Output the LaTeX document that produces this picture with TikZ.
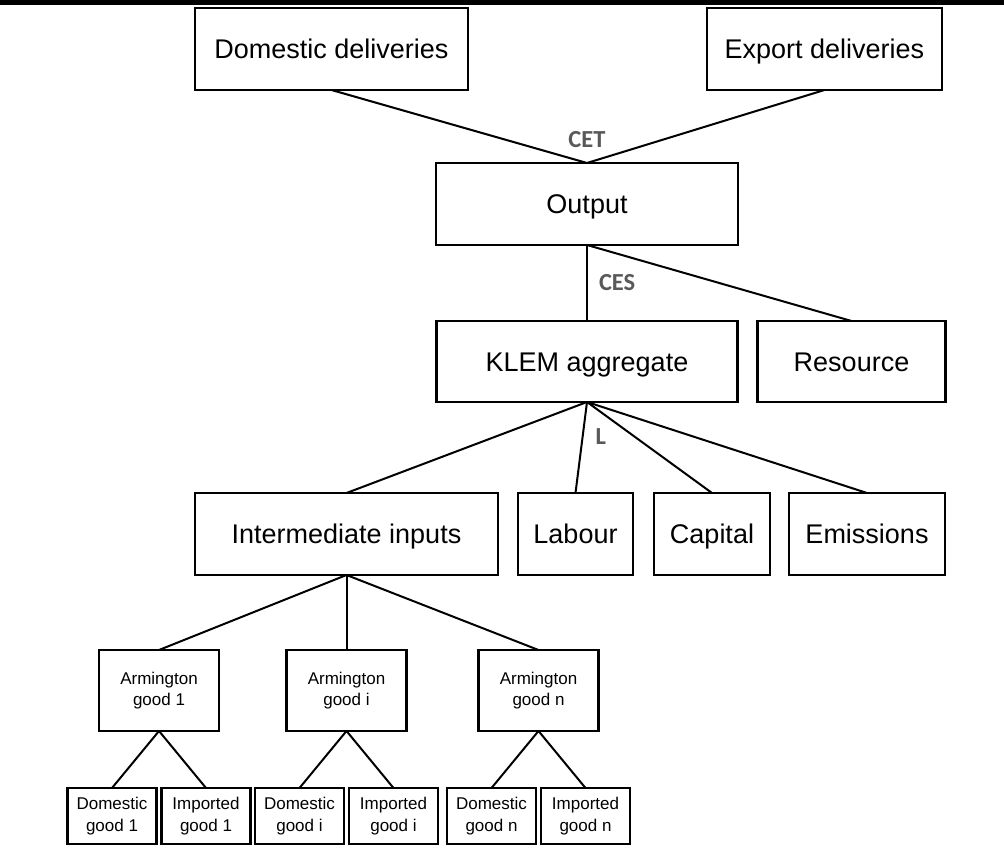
\documentclass[tikz,border=0pt]{standalone}
\usepackage{fontspec}
\setmainfont{Liberation Sans}
\newfontfamily\lblfont{Carlito}
\usepackage{xcolor}
\usetikzlibrary{positioning}
\definecolor{lblgray}{HTML}{595959}
\tikzset{
  tree/.style={every edge/.style={draw=black, line width=2pt}},
  cell/.style={
    rectangle, draw=black, line width=2.2pt, inner sep=0pt, outer sep=0pt
  },
  bx/.style={
    cell, minimum height=82pt, text height=19pt, text depth=0pt,
    font=\fontsize{27}{32}\selectfont
  },
  sbx/.style={
    cell, minimum width=120pt, minimum height=81pt, align=center,
    font=\fontsize{17}{21.7}\selectfont
  },
  leaf/.style={sbx, minimum width=89pt, minimum height=56pt},
  lbl/.style={
    inner sep=0pt, outer sep=0pt, text=lblgray,
    font=\lblfont\bfseries\fontsize{24.5}{28}\selectfont
  },
}

\begin{document}
\begin{tikzpicture}[tree, x=1pt, y=1pt, node distance=76pt and 20pt]
  \useasboundingbox (0,0) rectangle (1004,-848);
  \fill (0,0) rectangle (1004,-5.5);

  \node[bx, minimum width=302pt] (out) at (587,-204) {Output};
  \node[bx, minimum width=273pt, above=73pt of out, xshift=-255.5pt] (dom) {Domestic deliveries};
  \node[bx, minimum width=235pt, above=73pt of out, xshift=237.5pt] (exp) {Export deliveries};
  \node[lbl, above=15pt of out] (cet) {CET};

  \node[bx, minimum width=301pt, minimum height=81pt, below=of out] (klem) {KLEM aggregate};
  \node[bx, minimum width=188pt, minimum height=81pt, right=of klem] (res) {Resource};

  \node[bx, minimum width=303pt, below=91pt of klem, xshift=-240.5pt] (inter) {Intermediate inputs};
  \node[bx, minimum width=115pt, right=20pt of inter] (lab) {Labour};
  \node[bx, minimum width=116pt, right=21pt of lab] (cap) {Capital};
  \node[bx, minimum width=156pt, right=19pt of cap] (emi) {Emissions};

  \node[sbx, below=75pt of inter, xshift=-187.5pt] (arm1) {Armington\\good 1};
  \node[sbx, below=75pt of inter] (armi) {Armington\\good i};
  \node[sbx, right=72pt of armi] (armn) {Armington\\good n};

  \node[leaf, below=57pt of arm1, xshift=-47pt] (dom1) {Domestic\\good 1};
  \node[leaf, below=57pt of arm1, xshift=47pt] (imp1) {Imported\\good 1};
  \node[leaf, below=57pt of armi, xshift=-47pt] (domi) {Domestic\\good i};
  \node[leaf, below=57pt of armi, xshift=47pt] (impi) {Imported\\good i};
  \node[leaf, below=57pt of armn, xshift=-47pt] (domn) {Domestic\\good n};
  \node[leaf, below=57pt of armn, xshift=47pt] (impn) {Imported\\good n};

  \path (dom.south) edge (out.north);
  \path (exp.south) edge (out.north);
  \path (out.south) edge node[lbl, right=12pt] (ces) {CES} (klem.north);
  \path (out.south) edge (res.north);
  \path (klem.south) edge (inter.north);
  \path (klem.south) edge node[lbl, pos=0.38, right=13pt] (ltag) {L} (lab.north);
  \path (klem.south) edge (cap.north);
  \path (klem.south) edge (emi.north);
  \path (inter.south) edge (arm1.north);
  \path (inter.south) edge (armi.north);
  \path (inter.south) edge (armn.north);
  \path (arm1.south) edge (dom1.north);
  \path (arm1.south) edge (imp1.north);
  \path (armi.south) edge (domi.north);
  \path (armi.south) edge (impi.north);
  \path (armn.south) edge (domn.north);
  \path (armn.south) edge (impn.north);
\end{tikzpicture}
\end{document}
